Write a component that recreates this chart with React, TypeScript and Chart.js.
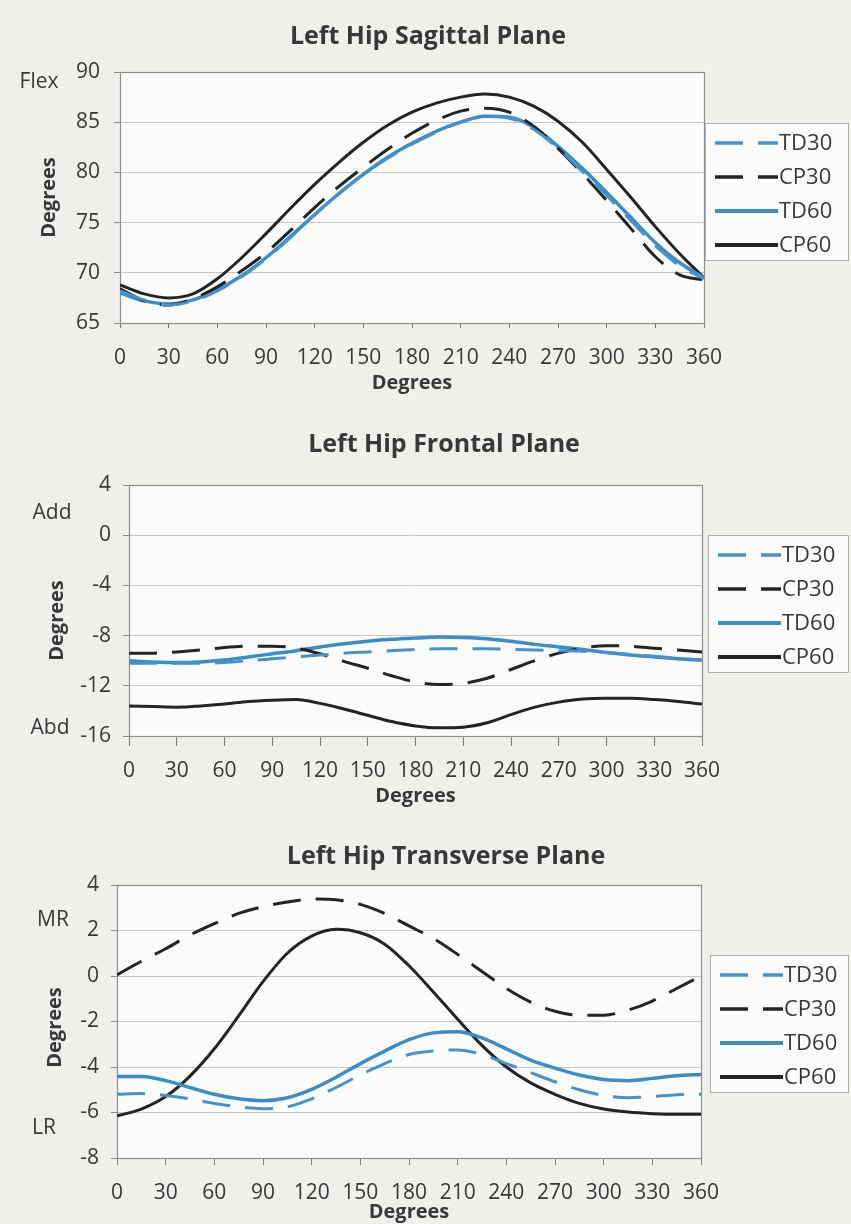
import React, { useEffect, useRef } from "react";
import { Chart, registerables } from "chart.js";

Chart.register(...registerables);

// ---------- DATA ----------
const DEGREES = [0, 15, 30, 45, 60, 75, 90, 105, 120, 135, 150, 165, 180, 195, 210, 225, 240, 255, 270, 285, 300, 315, 330, 345, 360];
const X_TICK_STEP = 30;
const SERIES_LABELS = ["TD30", "CP30", "TD60", "CP60"];

// Sagittal plane
const SAG_TD30 = [68.2, 67.3, 66.8, 67.2, 68.2, 69.6, 71.4, 73.5, 75.8, 77.9, 79.8, 81.4, 82.8, 84.0, 85.0, 85.6, 85.4, 84.3, 82.4, 80.1, 77.7, 75.2, 72.7, 70.7, 69.4];
const SAG_CP30 = [68.4, 67.2, 66.8, 67.4, 68.6, 70.2, 72.0, 74.2, 76.5, 78.6, 80.5, 82.3, 83.9, 85.2, 86.1, 86.4, 86.0, 84.6, 82.4, 79.9, 77.2, 74.4, 71.6, 69.8, 69.3];
const SAG_TD60 = [68.0, 67.2, 66.9, 67.3, 68.3, 69.7, 71.5, 73.6, 75.8, 77.9, 79.8, 81.5, 82.9, 84.1, 85.0, 85.6, 85.5, 84.5, 82.6, 80.4, 78.0, 75.5, 73.0, 71.0, 69.5];
const SAG_CP60 = [68.8, 67.9, 67.5, 67.9, 69.4, 71.5, 73.9, 76.4, 78.8, 81.0, 83.0, 84.7, 86.0, 86.9, 87.5, 87.8, 87.5, 86.6, 85.1, 83.0, 80.3, 77.5, 74.6, 71.9, 69.5];

// Frontal plane
const FRO_TD30 = [-10.2, -10.2, -10.2, -10.2, -10.15, -10.0, -9.85, -9.7, -9.55, -9.4, -9.3, -9.2, -9.1, -9.05, -9.05, -9.05, -9.1, -9.15, -9.2, -9.25, -9.35, -9.5, -9.65, -9.8, -9.95];
const FRO_CP30 = [-9.4, -9.4, -9.3, -9.15, -8.95, -8.85, -8.85, -9.0, -9.45, -10.05, -10.6, -11.2, -11.7, -11.9, -11.8, -11.4, -10.7, -10.0, -9.4, -9.0, -8.8, -8.85, -9.0, -9.15, -9.3];
const FRO_TD60 = [-10.0, -10.1, -10.15, -10.1, -9.95, -9.7, -9.45, -9.2, -8.9, -8.65, -8.45, -8.3, -8.2, -8.12, -8.15, -8.25, -8.45, -8.7, -8.9, -9.1, -9.35, -9.55, -9.7, -9.85, -9.95];
const FRO_CP60 = [-13.6, -13.65, -13.7, -13.6, -13.45, -13.25, -13.15, -13.1, -13.4, -13.85, -14.35, -14.85, -15.2, -15.35, -15.3, -14.95, -14.3, -13.7, -13.3, -13.05, -13.0, -13.0, -13.1, -13.25, -13.45];

// Transverse plane
const TRA_TD30 = [-5.2, -5.17, -5.25, -5.4, -5.6, -5.75, -5.83, -5.75, -5.4, -4.9, -4.35, -3.85, -3.45, -3.3, -3.25, -3.45, -3.85, -4.25, -4.65, -5.0, -5.25, -5.35, -5.3, -5.22, -5.2];
const TRA_CP30 = [0.05, 0.65, 1.2, 1.8, 2.3, 2.75, 3.05, 3.25, 3.38, 3.35, 3.15, 2.75, 2.2, 1.65, 0.95, 0.2, -0.55, -1.15, -1.55, -1.72, -1.72, -1.5, -1.1, -0.55, 0.0];
const TRA_TD60 = [-4.42, -4.42, -4.6, -4.9, -5.2, -5.4, -5.48, -5.35, -4.98, -4.45, -3.85, -3.3, -2.8, -2.5, -2.45, -2.72, -3.2, -3.7, -4.05, -4.35, -4.55, -4.6, -4.5, -4.38, -4.33];
const TRA_CP60 = [-6.15, -5.85, -5.3, -4.4, -3.2, -1.75, -0.25, 1.0, 1.75, 2.05, 1.9, 1.4, 0.45, -0.7, -1.9, -3.05, -4.0, -4.7, -5.2, -5.6, -5.85, -5.98, -6.05, -6.08, -6.08];

// ---------- STYLE ----------
const PAGE_W = 851;
const PAGE_H = 1224;
const FONT = "'Open Sans', 'DejaVu Sans', sans-serif";
const TEXT = "#383838";
const BLUE = "#3a8dc6";
const BLUE_D = "#4792ca";
const DARK = "#242424";
const PAGE_BG = "#efefec";
const PLOT_BG = "#fbfbfa";
const GRID = "#c6c6c6";
const FRAME = "#8e8e8e";
const DASH = [28, 15];

type Spec = {
  title: string;
  values: number[][];
  yMin: number;
  yMax: number;
  yStep: number;
  canvasTop: number;
  canvasH: number;
  area: { left: number; right: number; top: number; bottom: number };
  xTick: number;
  yPad: number;
  titleX: number;
  titleY: number;
  xTitleDy: number;
  yTitleDx: number;
  yTitleDy: number;
  side: { text: string; value: number; dx: number }[];
  legendDx: number;
  legendDy: number;
};

const SPECS: Spec[] = [
  {
    title: "Left Hip Sagittal Plane",
    values: [SAG_TD30, SAG_CP30, SAG_TD60, SAG_CP60],
    yMin: 65, yMax: 90, yStep: 5,
    canvasTop: 0, canvasH: 410,
    area: { left: 120, right: 704, top: 72, bottom: 323 },
    xTick: 5, yPad: 14,
    titleX: 428, titleY: 37,
    xTitleDy: 60, yTitleDx: 71, yTitleDy: 0,
    side: [{ text: "Flex", value: 89.0, dx: 81 }],
    legendDx: 1, legendDy: 51,
  },
  {
    title: "Left Hip Frontal Plane",
    values: [FRO_TD30, FRO_CP30, FRO_TD60, FRO_CP60],
    yMin: -16, yMax: 4, yStep: 4,
    canvasTop: 415, canvasH: 395,
    area: { left: 129, right: 702, top: 70, bottom: 321 },
    xTick: 10, yPad: 12,
    titleX: 444, titleY: 30,
    xTitleDy: 60, yTitleDx: 72, yTitleDy: 10,
    side: [{ text: "Add", value: 1.8, dx: 77 }, { text: "Abd", value: -15.4, dx: 79 }],
    legendDx: 6, legendDy: 50,
  },
  {
    title: "Left Hip Transverse Plane",
    values: [TRA_TD30, TRA_CP30, TRA_TD60, TRA_CP60],
    yMin: -8, yMax: 4, yStep: 2,
    canvasTop: 820, canvasH: 404,
    area: { left: 117, right: 701, top: 65, bottom: 338 },
    xTick: 7, yPad: 12,
    titleX: 446, titleY: 37,
    xTitleDy: 54, yTitleDx: 62, yTitleDy: 6,
    side: [{ text: "MR", value: 2.45, dx: 64 }, { text: "LR", value: -6.7, dx: 73 }],
    legendDx: 9, legendDy: 70,
  },
];

const SERIES_STYLE = [
  { color: BLUE_D, dash: DASH, width: 3 },
  { color: DARK, dash: DASH, width: 3 },
  { color: BLUE, dash: [] as number[], width: 3.5 },
  { color: DARK, dash: [] as number[], width: 3 },
];

const X_AXIS_H = 60;

const decorPlugin = {
  id: "decor",
  beforeDraw(chart: any) {
    const { ctx, chartArea: a } = chart;
    ctx.save();
    ctx.fillStyle = PLOT_BG;
    ctx.fillRect(a.left, a.top, a.right - a.left, a.bottom - a.top);
    ctx.restore();
  },
  beforeDatasetsDraw(chart: any) {
    const { ctx, chartArea: a } = chart;
    ctx.save();
    ctx.strokeStyle = FRAME;
    ctx.lineWidth = 1.2;
    ctx.strokeRect(a.left + 0.5, a.top + 0.5, a.right - a.left, a.bottom - a.top);
    ctx.restore();
  },
  afterDraw(chart: any, _a: any, o: any) {
    const { ctx, chartArea: a } = chart;
    const yScale = chart.scales.y;
    ctx.save();
    ctx.fillStyle = TEXT;
    ctx.textBaseline = "middle";
    // title
    ctx.textAlign = "center";
    ctx.font = `bold 25px ${FONT}`;
    ctx.fillText(o.title, o.titleX, o.titleY);
    // x title
    ctx.font = `bold 20px ${FONT}`;
    ctx.fillText("Degrees", (a.left + a.right) / 2, a.bottom + o.xTitleDy);
    // y title
    ctx.save();
    ctx.translate(a.left - o.yTitleDx, (a.top + a.bottom) / 2 + o.yTitleDy);
    ctx.rotate(-Math.PI / 2);
    ctx.fillText("Degrees", 0, 0);
    ctx.restore();
    // side labels
    ctx.font = `21px ${FONT}`;
    for (const s of o.side) {
      ctx.fillText(s.text, a.left - s.dx, yScale.getPixelForValue(s.value));
    }
    // legend
    const lx = a.right + o.legendDx;
    const ly = a.top + o.legendDy;
    const lw = PAGE_W - 3 - lx;
    const lh = 137;
    ctx.fillStyle = PLOT_BG;
    ctx.fillRect(lx, ly, lw, lh);
    ctx.strokeStyle = "#b0b0b0";
    ctx.lineWidth = 1;
    ctx.strokeRect(lx + 0.5, ly + 0.5, lw, lh);
    ctx.font = `22px ${FONT}`;
    ctx.textAlign = "left";
    chart.data.datasets.forEach((ds: any, i: number) => {
      const cy = ly + 20 + i * 34;
      ctx.save();
      ctx.strokeStyle = ds.borderColor;
      ctx.lineWidth = ds.borderDash && ds.borderDash.length ? 3.5 : 4;
      ctx.setLineDash(ds.borderDash || []);
      ctx.beginPath();
      ctx.moveTo(lx + 10, cy);
      ctx.lineTo(lx + 73, cy);
      ctx.stroke();
      ctx.restore();
      ctx.fillStyle = TEXT;
      ctx.fillText(ds.label, lx + 74, cy + 1);
    });
    ctx.restore();
  },
};

function PlaneChart({ spec }: { spec: Spec }) {
  const ref = useRef<HTMLCanvasElement>(null);
  useEffect(() => {
    if (!ref.current) return;
    const datasets = spec.values.map((vals, i) => ({
      label: SERIES_LABELS[i],
      data: DEGREES.map((d, j) => ({ x: d, y: vals[j] })),
      borderColor: SERIES_STYLE[i].color,
      borderWidth: SERIES_STYLE[i].width,
      borderDash: SERIES_STYLE[i].dash,
      pointRadius: 0,
      cubicInterpolationMode: "monotone",
      fill: false,
    }));
    const chart = new Chart(ref.current, {
      type: "line",
      data: { datasets },
      plugins: [decorPlugin],
      options: {
        responsive: false,
        animation: false,
        devicePixelRatio: 1,
        layout: {
          padding: {
            left: 0,
            top: spec.area.top,
            right: PAGE_W - spec.area.right,
            bottom: spec.canvasH - spec.area.bottom - X_AXIS_H,
          },
        },
        plugins: {
          legend: { display: false },
          title: { display: false },
          tooltip: { enabled: false },
          decor: {
            title: spec.title,
            titleX: spec.titleX,
            titleY: spec.titleY,
            xTitleDy: spec.xTitleDy,
            yTitleDx: spec.yTitleDx,
            yTitleDy: spec.yTitleDy,
            side: spec.side,
            legendDx: spec.legendDx,
            legendDy: spec.legendDy,
          },
        } as any,
        scales: {
          x: {
            type: "linear",
            min: 0,
            max: 360,
            afterFit: (s: any) => { s.height = X_AXIS_H; },
            ticks: {
              stepSize: X_TICK_STEP,
              autoSkip: false,
              maxRotation: 0,
              color: TEXT,
              font: { family: FONT, size: 21 },
              padding: 22 - spec.xTick,
            },
            grid: {
              drawOnChartArea: false,
              drawTicks: true,
              tickLength: spec.xTick,
              tickColor: "#7a7a7a",
              color: "#7a7a7a",
            },
            border: { display: false },
          },
          y: {
            min: spec.yMin,
            max: spec.yMax,
            afterFit: (s: any) => { s.width = spec.area.left; },
            ticks: {
              stepSize: spec.yStep,
              color: TEXT,
              font: { family: FONT, size: 21 },
              padding: spec.yPad,
            },
            grid: {
              color: GRID,
              lineWidth: 1,
              drawTicks: true,
              tickLength: 6,
              tickColor: "#8a8a8a",
            },
            border: { display: false },
          },
        },
      } as any,
    });
    return () => chart.destroy();
  }, [spec]);
  return (
    <canvas
      ref={ref}
      width={PAGE_W}
      height={spec.canvasH}
      style={{ position: "absolute", left: 0, top: spec.canvasTop, width: PAGE_W, height: spec.canvasH }}
    />
  );
}

export default function App() {
  return (
    <div style={{ position: "absolute", left: 0, top: 0, width: PAGE_W, height: PAGE_H, background: PAGE_BG, overflow: "hidden" }}>
      {SPECS.map((s) => (
        <PlaneChart key={s.title} spec={s} />
      ))}
    </div>
  );
}
